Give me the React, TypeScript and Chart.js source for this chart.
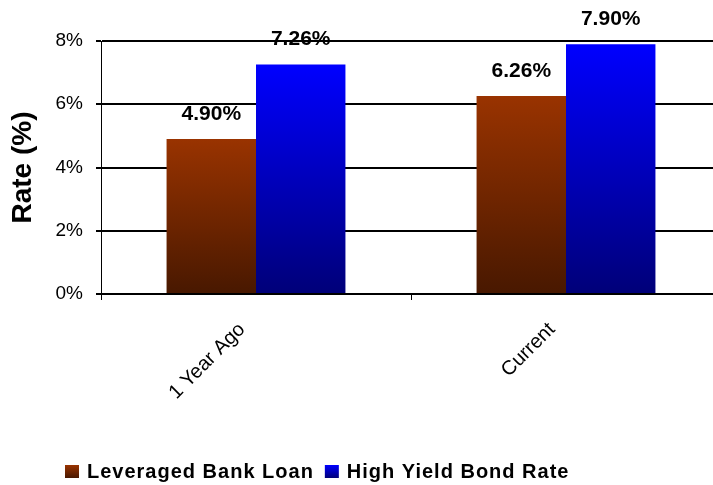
import React, { useEffect, useRef } from "react";
import { Chart, registerables } from "chart.js";

Chart.register(...registerables);

// ---- Data ----
const categories = ["1 Year Ago", "Current"];
const seriesNames = ["Leveraged Bank Loan", "High Yield Bond Rate"];
const leveragedBankLoan = [4.9, 6.26];
const highYieldBondRate = [7.26, 7.9];
const yTickValues = [0, 2, 4, 6, 8];

// ---- Style ----
const FONT = "'Liberation Sans', Arial, Helvetica, sans-serif";
const GRADIENTS: string[][] = [
  ["#993300", "#481800"],
  ["#0000ff", "#000078"],
];

function barGradient(ctx: any, i: number) {
  const chart = ctx.chart;
  const [top, bottom] = GRADIENTS[i];
  const area = chart.chartArea;
  const yScale = chart.scales && chart.scales.y;
  if (!area || !yScale || ctx.type !== "data") return top;
  const yTop = yScale.getPixelForValue(ctx.raw);
  const yBot = yScale.getPixelForValue(0);
  if (!isFinite(yTop) || !isFinite(yBot)) return top;
  const g = chart.ctx.createLinearGradient(0, yTop, 0, yBot);
  g.addColorStop(0, top);
  g.addColorStop(1, bottom);
  return g;
}

const valueLabels = {
  id: "valueLabels",
  afterDatasetsDraw(chart: any) {
    const c = chart.ctx;
    c.save();
    c.font = `bold 21px ${FONT}`;
    c.fillStyle = "#000";
    c.textAlign = "center";
    c.textBaseline = "middle";
    chart.data.datasets.forEach((ds: any, di: number) => {
      chart.getDatasetMeta(di).data.forEach((el: any, i: number) => {
        c.fillText(Number(ds.data[i]).toFixed(2) + "%", el.x, el.y - 25);
      });
    });
    c.restore();
  },
};

const bottomLegend = {
  id: "bottomLegend",
  afterDraw(chart: any) {
    const c = chart.ctx;
    c.save();
    c.font = `bold 20px ${FONT}`;
    (c as any).letterSpacing = "1px";
    c.textAlign = "left";
    c.textBaseline = "alphabetic";
    const boxTop = 465;
    const boxH = 13;
    const boxW = 14;
    const baseline = 478;
    let x = 65;
    chart.data.datasets.forEach((ds: any, i: number) => {
      const g = c.createLinearGradient(0, boxTop, 0, boxTop + boxH);
      g.addColorStop(0, GRADIENTS[i][0]);
      g.addColorStop(1, GRADIENTS[i][1]);
      c.fillStyle = g;
      c.fillRect(x, boxTop, boxW, boxH);
      x += boxW + 8;
      c.fillStyle = "#000";
      c.fillText(ds.label, x, baseline);
      x += c.measureText(ds.label).width + 11;
    });
    c.restore();
  },
};

export default function App() {
  const canvasRef = useRef<HTMLCanvasElement | null>(null);

  useEffect(() => {
    if (!canvasRef.current) return;
    const chart = new Chart(canvasRef.current, {
      type: "bar",
      data: {
        labels: categories,
        datasets: [
          {
            label: seriesNames[0],
            data: leveragedBankLoan,
            backgroundColor: (ctx: any) => barGradient(ctx, 0),
            borderWidth: 0,
            categoryPercentage: 0.577,
            barPercentage: 1,
          },
          {
            label: seriesNames[1],
            data: highYieldBondRate,
            backgroundColor: (ctx: any) => barGradient(ctx, 1),
            borderWidth: 0,
            categoryPercentage: 0.577,
            barPercentage: 1,
          },
        ],
      },
      options: {
        responsive: false,
        animation: false,
        devicePixelRatio: 1,
        layout: { padding: { left: 0, right: 0, top: 41, bottom: 0 } },
        plugins: {
          legend: { display: false },
          tooltip: { enabled: false },
        },
        scales: {
          x: {
            offset: true,
            grid: {
              display: true,
              drawOnChartArea: false,
              offset: true,
              color: "#000",
              lineWidth: 1,
              tickLength: 6,
            },
            border: { display: true, color: "#000", width: 2 },
            ticks: {
              color: "#000",
              font: { family: FONT, size: 20 },
              minRotation: 45,
              maxRotation: 45,
              padding: 18,
              labelOffset: -14,
              autoSkip: false,
            },
            afterFit: (s: any) => {
              s.height = 191;
            },
          },
          y: {
            min: 0,
            max: 8,
            afterBuildTicks: (s: any) => {
              s.ticks = yTickValues.map((v) => ({ value: v }));
            },
            ticks: {
              callback: (v: any) => v + "%",
              color: "#000",
              font: { family: FONT, size: 19 },
              padding: 13,
            },
            grid: { color: "#000", lineWidth: 2, tickLength: 5 },
            border: { display: true, color: "#000", width: 1 },
            title: {
              display: true,
              text: "Rate (%)",
              color: "#000",
              font: { family: FONT, size: 28, weight: "bold" },
              padding: { top: 6, bottom: 0 },
            },
            afterFit: (s: any) => {
              s.width = 101;
            },
          },
        },
      },
      plugins: [valueLabels, bottomLegend],
    } as any);
    return () => chart.destroy();
  }, []);

  return (
    <div
      style={{
        position: "absolute",
        left: 0,
        top: 0,
        width: 713,
        height: 485,
        overflow: "hidden",
        background: "#fff",
      }}
    >
      <canvas ref={canvasRef} width={721} height={485} style={{ display: "block" }} />
    </div>
  );
}
